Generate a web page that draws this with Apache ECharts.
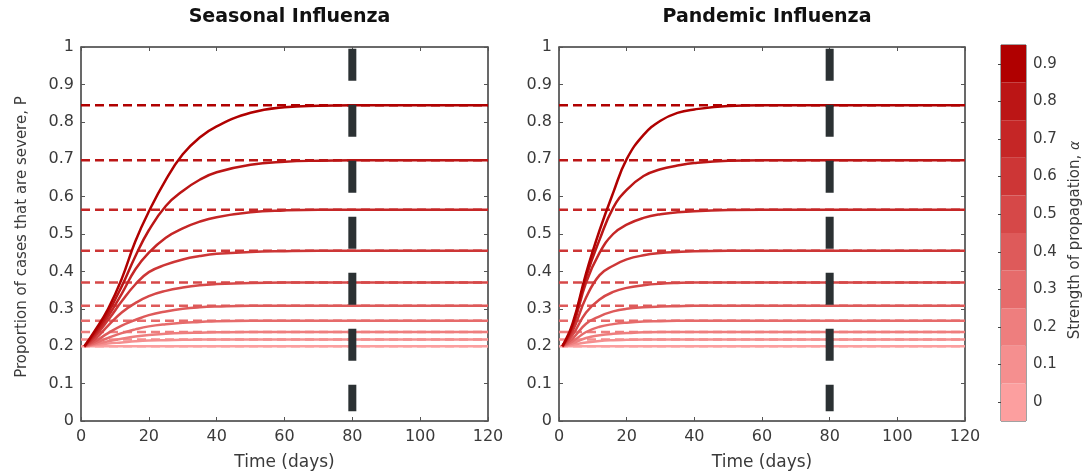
<!DOCTYPE html>
<html>
<head>
<meta charset="utf-8">
<script src="https://cdn.jsdelivr.net/npm/echarts@6/dist/echarts.min.js"></script>
<style>
  html, body { margin: 0; padding: 0; background: #fff; }
  #main { width: 1088px; height: 476px; }
</style>
</head>
<body>
<div id="main"></div>
<script>
// data
const days = [1, 4, 8, 12, 16, 20, 25, 30, 35, 40, 50, 60, 70, 80, 120];
const alphas = [0, 0.1, 0.2, 0.3, 0.4, 0.5, 0.6, 0.7, 0.8, 0.9];
const plateaus = [0.2, 0.218, 0.238, 0.268, 0.308, 0.37, 0.455, 0.565, 0.697, 0.844];
const switchDay = 80;

const seasonalCurves = [
  [0.2, 0.2, 0.2, 0.2, 0.2, 0.2, 0.2, 0.2, 0.2, 0.2, 0.2, 0.2, 0.2, 0.2, 0.2],
  [0.2, 0.203, 0.207, 0.21, 0.213, 0.215, 0.216, 0.217, 0.218, 0.218, 0.218, 0.218, 0.218, 0.218, 0.218],
  [0.2, 0.205, 0.213, 0.22, 0.226, 0.23, 0.233, 0.235, 0.236, 0.237, 0.238, 0.238, 0.238, 0.238, 0.238],
  [0.2, 0.208, 0.222, 0.235, 0.245, 0.253, 0.259, 0.263, 0.265, 0.267, 0.268, 0.268, 0.268, 0.268, 0.268],
  [0.2, 0.212, 0.235, 0.255, 0.27, 0.283, 0.293, 0.3, 0.304, 0.306, 0.308, 0.308, 0.308, 0.308, 0.308],
  [0.2, 0.218, 0.255, 0.29, 0.315, 0.334, 0.348, 0.357, 0.363, 0.366, 0.369, 0.37, 0.37, 0.37, 0.37],
  [0.2, 0.225, 0.27, 0.32, 0.365, 0.398, 0.418, 0.432, 0.441, 0.447, 0.452, 0.454, 0.455, 0.455, 0.455],
  [0.2, 0.23, 0.28, 0.34, 0.405, 0.45, 0.49, 0.515, 0.533, 0.545, 0.558, 0.563, 0.565, 0.565, 0.565],
  [0.2, 0.235, 0.29, 0.36, 0.44, 0.51, 0.575, 0.615, 0.645, 0.665, 0.685, 0.693, 0.696, 0.697, 0.697],
  [0.2, 0.24, 0.3, 0.38, 0.48, 0.56, 0.645, 0.713, 0.758, 0.788, 0.824, 0.839, 0.843, 0.844, 0.844]
];

const pandemicCurves = [
  [0.2, 0.2, 0.2, 0.2, 0.2, 0.2, 0.2, 0.2, 0.2, 0.2, 0.2, 0.2, 0.2, 0.2, 0.2],
  [0.2, 0.204, 0.21, 0.214, 0.216, 0.217, 0.218, 0.218, 0.218, 0.218, 0.218, 0.218, 0.218, 0.218, 0.218],
  [0.2, 0.208, 0.222, 0.229, 0.233, 0.235, 0.237, 0.238, 0.238, 0.238, 0.238, 0.238, 0.238, 0.238, 0.238],
  [0.2, 0.213, 0.238, 0.252, 0.259, 0.263, 0.266, 0.267, 0.268, 0.268, 0.268, 0.268, 0.268, 0.268, 0.268],
  [0.2, 0.22, 0.26, 0.28, 0.293, 0.3, 0.304, 0.306, 0.307, 0.308, 0.308, 0.308, 0.308, 0.308, 0.308],
  [0.2, 0.23, 0.29, 0.325, 0.345, 0.356, 0.363, 0.367, 0.369, 0.37, 0.37, 0.37, 0.37, 0.37, 0.37],
  [0.2, 0.24, 0.33, 0.39, 0.415, 0.432, 0.443, 0.449, 0.452, 0.454, 0.455, 0.455, 0.455, 0.455, 0.455],
  [0.2, 0.25, 0.37, 0.45, 0.5, 0.525, 0.543, 0.553, 0.558, 0.561, 0.564, 0.565, 0.565, 0.565, 0.565],
  [0.2, 0.255, 0.385, 0.485, 0.57, 0.618, 0.655, 0.673, 0.683, 0.69, 0.696, 0.697, 0.697, 0.697, 0.697],
  [0.2, 0.26, 0.395, 0.51, 0.61, 0.7, 0.765, 0.803, 0.824, 0.833, 0.842, 0.844, 0.844, 0.844, 0.844]
];

// colour per alpha level (light pink -> dark red)
const palette = ['#fc9f9f', '#f58f8f', '#ee7e7e', '#e66b6b', '#de5a5a', '#d64848', '#cd3636', '#c52626', '#bb1515', '#b00000'];

const FONT = 'DejaVu Sans';
const AXIS_COLOR = '#555';
const TEXT_COLOR = '#3a3a3a';

const panels = [
  { title: 'Seasonal Influenza', curves: seasonalCurves, left: 81, width: 407 },
  { title: 'Pandemic Influenza', curves: pandemicCurves, left: 559, width: 406 }
];

const grids = [];
const xAxes = [];
const yAxes = [];
const series = [];
const titles = [];

panels.forEach((p, i) => {
  grids.push({ left: p.left, top: 47, width: p.width, height: 380, show: true, borderColor: AXIS_COLOR, borderWidth: 1 });
  const axisBase = {
    gridIndex: i, type: 'value',
    axisLine: { show: true, onZero: false, lineStyle: { color: AXIS_COLOR, width: 1.5 } },
    axisTick: { show: true, inside: true, length: 4, lineStyle: { color: AXIS_COLOR } },
    splitLine: { show: false }
  };
  // bottom / left with labels
  xAxes.push(Object.assign({}, axisBase, {
    position: 'bottom', min: 0, max: 120, interval: 20,
    name: 'Time (days)', nameLocation: 'middle', nameGap: 33,
    nameTextStyle: { fontFamily: FONT, fontSize: 17, color: TEXT_COLOR },
    axisLabel: { fontFamily: FONT, fontSize: 16, color: TEXT_COLOR, margin: 8 }
  }));
  // top / right ticks only
  xAxes.push(Object.assign({}, axisBase, {
    position: 'top', min: 0, max: 120, interval: 20, axisLabel: { show: false }
  }));
  yAxes.push(Object.assign({}, axisBase, {
    position: 'left', min: 0, max: 1, interval: 0.1,
    axisLabel: { fontFamily: FONT, fontSize: 16, color: TEXT_COLOR, margin: 7 }
  }));
  yAxes.push(Object.assign({}, axisBase, {
    position: 'right', min: 0, max: 1, interval: 0.1, axisLabel: { show: false }
  }));

  titles.push({
    text: p.title, left: p.left + p.width / 2, top: 3, textAlign: 'center',
    textStyle: { fontFamily: FONT, fontSize: 19, fontWeight: 'bold', color: '#111' }
  });

  const xi = i * 2, yi = i * 2;
  // dashed plateau references
  alphas.forEach((a, k) => {
    series.push({
      type: 'line', xAxisIndex: xi, yAxisIndex: yi, symbol: 'none', silent: true,
      data: [[0, plateaus[k]], [120, plateaus[k]]],
      lineStyle: { color: palette[k], width: 2.5, type: [9, 5] }
    });
  });
  // trajectories
  alphas.forEach((a, k) => {
    series.push({
      type: 'line', xAxisIndex: xi, yAxisIndex: yi, symbol: 'none', silent: true,
      smooth: 0.45,
      data: days.map((d, j) => [d, p.curves[k][j]]),
      lineStyle: { color: palette[k], width: 2.5 }
    });
  });
  // vertical switch marker
  series.push({
    type: 'line', xAxisIndex: xi, yAxisIndex: yi, symbol: 'none', silent: true, z: 10,
    data: [[switchDay, 0.995], [switchDay, 0.026]],
    lineStyle: { color: '#2b3133', width: 8, type: [32, 24], cap: 'butt' }
  });
});

// colour bar
grids.push({ left: 1001, top: 45, width: 25, height: 376, show: true, borderColor: '#444', borderWidth: 1 });
xAxes.push({ gridIndex: 2, type: 'value', min: 0, max: 1, show: false });
yAxes.push({
  gridIndex: 2, type: 'category', position: 'right',
  data: alphas.map(String),
  axisLine: { show: false },
  axisTick: { show: true, inside: true, alignWithLabel: true, length: 3, lineStyle: { color: '#444' } },
  axisLabel: { fontFamily: FONT, fontSize: 15, color: TEXT_COLOR, margin: 7 },
  splitLine: { show: false }
});
series.push({
  type: 'bar', xAxisIndex: 4, yAxisIndex: 4, silent: true, barWidth: '100%',
  data: alphas.map((a, k) => ({ value: 1, itemStyle: { color: palette[k] } }))
});

const chart = echarts.init(document.getElementById('main'), null, { renderer: 'canvas' });
chart.setOption({
  animation: false,
  title: titles,
  grid: grids,
  xAxis: xAxes,
  yAxis: yAxes,
  series: series,
  graphic: [
    {
      type: 'text', x: 22, y: 237, rotation: Math.PI / 2,
      style: {
        text: 'Proportion of cases that are severe, P',
        fontFamily: FONT, fontSize: 15, fill: TEXT_COLOR,
        align: 'center', verticalAlign: 'middle'
      }
    },
    {
      type: 'text', x: 1075, y: 240, rotation: Math.PI / 2,
      style: {
        text: 'Strength of propagation, {a|α}',
        fontFamily: FONT, fontSize: 15, fill: TEXT_COLOR,
        align: 'center', verticalAlign: 'middle',
        rich: { a: { fontFamily: FONT, fontSize: 14, fontStyle: 'italic', fill: TEXT_COLOR } }
      }
    }
  ]
});
</script>
</body>
</html>
